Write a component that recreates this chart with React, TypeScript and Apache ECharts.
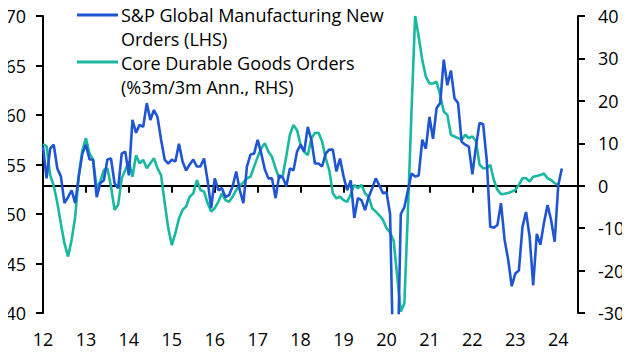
import React, { useEffect, useRef } from "react";
import * as echarts from "echarts";

const START_YEAR = 2012;
const YEAR_TICKS = [2012, 2013, 2014, 2015, 2016, 2017, 2018, 2019, 2020, 2021, 2022, 2023, 2024];

// S&P Global Manufacturing New Orders (LHS), monthly from Jan 2012
const pmiNewOrders = [
  56.8, 53.6, 56.6, 57.0, 54.6, 53.8, 51.1, 51.7, 52.4, 51.1, 53.8, 56.1,
  57.0, 55.5, 55.5, 51.7, 53.1, 53.4, 55.5, 55.6, 53.1, 52.6, 56.1, 56.3,
  53.9, 59.5, 58.2, 59.0, 58.8, 61.2, 59.5, 60.5, 59.8, 57.5, 55.5, 55.1,
  55.5, 55.3, 57.1, 55.3, 54.4, 55.0, 55.5, 54.8, 54.8, 55.6, 53.4, 50.6,
  53.6, 52.4, 52.6, 51.7, 51.9, 52.8, 54.3, 52.4, 51.1, 54.8, 56.0, 56.1,
  57.5, 56.1, 54.5, 53.6, 53.6, 51.6, 53.9, 53.7, 52.8, 54.6, 54.4, 56.3,
  57.0, 56.3, 58.8, 57.5, 55.1, 55.1, 54.8, 56.1, 56.5, 56.5, 54.3, 55.6,
  53.8, 52.4, 53.4, 49.6, 51.6, 51.4, 50.4, 51.7, 52.6, 53.6, 52.9, 52.1,
  52.2, 50.0, 33.0, 33.0, 50.0, 50.7, 52.4, 54.1, 53.8, 53.9, 57.5, 56.6,
  59.8, 57.6, 60.7, 61.2, 65.6, 63.0, 64.5, 61.7, 61.2, 57.3, 57.0, 56.8,
  54.0, 56.8, 59.2, 59.1, 55.5, 48.7, 48.6, 48.9, 51.1, 47.4, 45.4, 42.7,
  44.0, 44.3, 48.7, 50.2, 47.7, 42.8, 48.0, 46.9, 49.1, 50.9, 49.4, 47.2,
  52.9, 54.6,
];

// Core Durable Goods Orders, %3m/3m annualised (RHS), monthly from Jan 2012
const coreDurables = [
  9.8, 9.3, 2.5, 0.0, -4.0, -9.0, -13.6, -16.7, -12.8, -7.3, 2.5, 8.3,
  11.2, 7.6, 6.1, -0.6, 1.0, 3.7, 4.1, -0.2, -5.7, -4.5, 1.75, 3.7,
  5.7, 2.1, 7.2, 5.3, 6.1, 4.1, 5.3, 6.5, 4.1, 2.5, -4.0, -10.0,
  -14.0, -11.2, -7.7, -5.7, -4.9, -2.6, -1.8, 1.35, -1.0, -1.4, -4.1, -6.1,
  -5.3, -3.8, -1.8, -3.4, -3.8, -2.6, -1.0, 0.0, 0.8, 1.75, 2.1, 4.5,
  6.8, 8.8, 10.0, 8.0, 6.8, 4.1, 1.75, 2.3, 7.0, 12.0, 14.3, 13.1,
  9.6, 8.0, 7.2, 11.2, 12.4, 12.5, 10.4, 6.5, 3.7, -1.8, -3.0, -2.6,
  -3.4, -3.8, -2.0, 0.2, -0.6, 0.2, -1.8, -2.6, -5.3, -6.1, -7.0, -8.0,
  -10.0, -11.0, -13.0, -21.4, -29.7, -27.7, -5.7, 17.8, 40.0, 35.1, 29.6, 25.7,
  24.1, 24.1, 24.5, 21.4, 17.5, 16.7, 12.0, 11.6, 11.2, 10.8, 12.0, 11.2,
  11.6, 10.5, 5.0, 4.1, 4.1, 4.9, 1.35, -1.0, -2.0, -1.9, -1.7, -1.4,
  -1.0, 0.2, 1.75, 1.75, 1.0, 2.1, 2.3, 2.5, 2.9, 1.75, 1.35, 0.6,
  0.2,
];

const SERIES_NAMES = [
  "S&P Global Manufacturing New Orders (LHS)",
  "Core Durable Goods Orders (%3m/3m Ann., RHS)",
];
const LEGEND_LINES = [
  ["S&P Global Manufacturing New", "Orders (LHS)"],
  ["Core Durable Goods Orders", "(%3m/3m Ann., RHS)"],
];

const BLUE = "#1f55d3";
const TEAL = "#19b8a0";
const FONT = "'Open Sans', 'Noto Sans', sans-serif";

const toPairs = (arr: number[]) => arr.map((v, i) => [START_YEAR + i / 12, v]);

export default function App() {
  const ref = useRef<HTMLDivElement>(null);
  useEffect(() => {
    if (!ref.current) return;
    const chart = echarts.init(ref.current, undefined, { renderer: "svg" });
    const axisLine = { show: true, lineStyle: { color: "#000", width: 2 } };
    const axisTick = { show: true, inside: false, length: 7, lineStyle: { color: "#000", width: 2 } };
    const labelStyle = { color: "#000", fontSize: 18, fontFamily: FONT };
    const legendText = (text: string, y: number) => ({
      type: "text",
      x: 121,
      y,
      style: { text, fill: "#000", fontSize: 18, fontFamily: FONT, lineHeight: 18, verticalAlign: "middle" },
    });
    chart.setOption({
      animation: false,
      backgroundColor: "#fff",
      grid: { left: 43, right: 52, top: 16, bottom: 42, containLabel: false },
      xAxis: {
        type: "value",
        min: 2012,
        max: 2024.46,
        interval: 1,
        axisLine,
        axisTick: { ...axisTick, customValues: YEAR_TICKS },
        axisLabel: {
          ...labelStyle,
          margin: 17,
          customValues: YEAR_TICKS,
          formatter: (v: number) => String(Math.round(v) - 2000),
        },
        splitLine: { show: false },
      },
      yAxis: [
        {
          type: "value",
          position: "left",
          min: 40,
          max: 70,
          interval: 5,
          axisLine,
          axisTick,
          axisLabel: { ...labelStyle, margin: 17 },
          splitLine: { show: false },
        },
        {
          type: "value",
          position: "right",
          min: -30,
          max: 40,
          interval: 10,
          axisLine,
          axisTick,
          axisLabel: { ...labelStyle, margin: 20 },
          splitLine: { show: false },
        },
      ],
      series: [
        {
          name: SERIES_NAMES[0],
          type: "line",
          yAxisIndex: 0,
          data: toPairs(pmiNewOrders),
          showSymbol: false,
          lineStyle: { color: BLUE, width: 2.6 },
          itemStyle: { color: BLUE },
          z: 3,
          markLine: {
            silent: true,
            symbol: "none",
            z: 1,
            label: { show: false },
            lineStyle: { color: "#000", width: 2, type: "solid" },
            data: [{ yAxis: 52.857 }],
          },
        },
        {
          name: SERIES_NAMES[1],
          type: "line",
          yAxisIndex: 1,
          data: toPairs(coreDurables),
          showSymbol: false,
          lineStyle: { color: TEAL, width: 2.6 },
          itemStyle: { color: TEAL },
          z: 2,
        },
      ],
      graphic: [
        { type: "line", shape: { x1: 77, y1: 15, x2: 118, y2: 15 }, style: { stroke: BLUE, lineWidth: 3 } },
        legendText(LEGEND_LINES[0][0], 15),
        legendText(LEGEND_LINES[0][1], 38.5),
        { type: "line", shape: { x1: 77, y1: 62, x2: 118, y2: 62 }, style: { stroke: TEAL, lineWidth: 3 } },
        legendText(LEGEND_LINES[1][0], 63),
        legendText(LEGEND_LINES[1][1], 86.5),
      ],
    });
    return () => chart.dispose();
  }, []);
  return <div ref={ref} style={{ width: 630, height: 355, margin: -8 }} />;
}
